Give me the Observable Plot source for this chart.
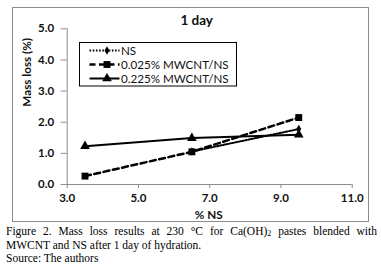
<!DOCTYPE html>
<html>
<head>
<meta charset="utf-8">
<script src="https://cdn.jsdelivr.net/npm/d3@7"></script>
<script src="https://cdn.jsdelivr.net/npm/@observablehq/plot@0.6"></script>
<style>
  html, body { margin: 0; padding: 0; background: #fff; }
  #chart { position: relative; width: 381px; height: 224px; }
  #caption { margin: 1px 0 0 6px; width: 371px; font-family: "Liberation Serif", "Times New Roman", serif; font-size: 11.5px; line-height: 13.5px; color: #000; }
  #caption .j { text-align: justify; text-align-last: justify; }
</style>
</head>
<body>
<div id="chart"></div>
<div id="caption">
  <div class="j">Figure 2. Mass loss results at 230 °C for Ca(OH)<sub style="font-size:8px;vertical-align:-1px;line-height:0">2</sub> pastes blended with</div>
  <div>MWCNT and NS after 1 day of hydration.</div>
  <div>Source: The authors</div>
</div>
<script>
const chartTitle = "1 day";
const xLabel = "% NS";
const yLabel = "Mass loss (%)";
const nsLevels = [3.5, 6.5, 9.5];
const seriesNames = ["NS", "0.025% MWCNT/NS", "0.225% MWCNT/NS"];
const nsValues = [null, 1.06, 1.78];
const mw025Values = [0.27, 1.05, 2.15];
const mw225Values = [1.23, 1.49, 1.60];
const xTicks = [3, 5, 7, 9, 11];
const yTicks = [0, 1, 2, 3, 4, 5];

const seriesValues = [nsValues, mw025Values, mw225Values];
const styles = [
  {dash: "1.6,1.6", width: 2, symbol: "diamond", r: 2.6},
  {dash: "6,3.5", width: 2.5, symbol: "square", r: 3.9},
  {dash: null, width: 2, symbol: "triangle", r: 3.6}
];
const data = seriesNames.flatMap((name, i) =>
  nsLevels.map((x, j) => ({series: name, x, y: seriesValues[i][j]})).filter(d => d.y != null)
);

const marks = [
  Plot.ruleY([0], {stroke: "#8c8c8c"}),
  Plot.ruleX([3], {stroke: "#8c8c8c"}),
  Plot.axisX({ticks: xTicks, tickFormat: d3.format(".1f"), tickSize: 4, tickPadding: 5, stroke: "#8c8c8c", fill: "#111", fontWeight: "bold", fontSize: 11.5, label: null}),
  Plot.axisY({ticks: yTicks, tickFormat: d3.format(".1f"), tickSize: 6, tickPadding: 7, stroke: "#8c8c8c", fill: "#111", fontWeight: "bold", fontSize: 11.5, label: null}),
  Plot.text([chartTitle], {frameAnchor: "top", dy: -8, dx: -13, lineAnchor: "middle", fontWeight: "bold", fontSize: 13.5, fill: "#111"}),
  Plot.text([xLabel], {frameAnchor: "bottom", dy: 31, dx: -1, lineAnchor: "middle", fontWeight: "bold", fontSize: 11.7, fill: "#111"}),
  Plot.text([yLabel], {frameAnchor: "left", dx: -39.5, rotate: -90, lineAnchor: "middle", fontWeight: "bold", fontSize: 11.7, fill: "#111"})
];
seriesNames.forEach((name, i) => {
  const s = styles[i];
  const d = data.filter(p => p.series === name);
  marks.push(Plot.line(d, {x: "x", y: "y", stroke: "#000", strokeWidth: s.width, strokeDasharray: s.dash}));
  marks.push(Plot.dot(d, {x: "x", y: "y", symbol: () => s.symbol, r: s.r, fill: "#000", stroke: "none"}));
});

const svg = Plot.plot({
  width: 381,
  height: 224,
  marginLeft: 66.7,
  marginRight: 29.3,
  marginTop: 28.3,
  marginBottom: 40,
  style: {fontFamily: "Lato, 'Open Sans', sans-serif", background: "#fff", overflow: "visible"},
  x: {domain: [3, 11]},
  y: {domain: [0, 5]},
  symbol: {type: "identity"},
  marks
});

const root = d3.select(svg);
root.insert("rect", ":first-child")
  .attr("x", 12.5).attr("y", 7.5).attr("width", 356).attr("height", 214)
  .attr("fill", "none").attr("stroke", "#8c8c8c");

// legend
const lg = root.append("g").attr("transform", "translate(79.5,42.5)");
lg.append("rect").attr("width", 157).attr("height", 43.5).attr("fill", "#fff").attr("stroke", "#000");
const rowY = [8, 22, 36];
seriesNames.forEach((name, i) => {
  const s = styles[i];
  const g = lg.append("g").attr("transform", `translate(0,${rowY[i]})`);
  g.append("line").attr("x1", 10).attr("x2", 40).attr("y1", 0).attr("y2", 0)
    .attr("stroke", "#000").attr("stroke-width", s.width).attr("stroke-dasharray", s.dash);
  const sym = {diamond: d3.symbolDiamond, square: d3.symbolSquare, triangle: d3.symbolTriangle}[s.symbol];
  g.append("path").attr("transform", "translate(27.5,0)")
    .attr("d", d3.symbol(sym, Math.PI * s.r * s.r)()).attr("fill", "#000");
  g.append("text").attr("x", 41.5).attr("y", 0).attr("dy", "0.35em")
    .attr("text-anchor", "start").attr("font-size", 11.6).attr("fill", "#111").text(name);
});

document.getElementById("chart").appendChild(svg);
</script>
</body>
</html>
